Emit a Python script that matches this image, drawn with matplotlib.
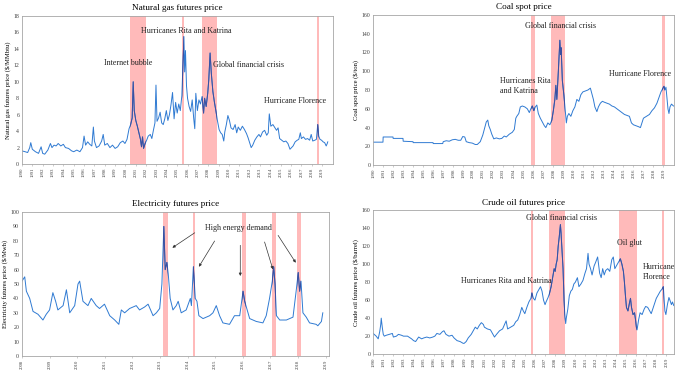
"""
Four commodity price panels with shaded event windows.
"""

import matplotlib
matplotlib.use("Agg")
import matplotlib.pyplot as plt
from matplotlib.patches import Rectangle

# Data (decimal years, prices).

gas_t = [1990.0, 1990.3, 1990.55, 1990.75, 1990.85, 1991.0, 1991.3, 1991.6, 1991.85,
         1992.0, 1992.2, 1992.5, 1992.75, 1992.9, 1993.1, 1993.3, 1993.5, 1993.75,
         1994.0, 1994.2, 1994.5, 1994.8, 1995.0, 1995.3, 1995.6, 1995.85,
         1996.0, 1996.15, 1996.35, 1996.55, 1996.75, 1996.9, 1997.0, 1997.2, 1997.45, 1997.7, 1997.85,
         1998.0, 1998.25, 1998.5, 1998.75, 1999.0, 1999.25, 1999.5, 1999.75, 1999.95,
         2000.15, 2000.35, 2000.5, 2000.65, 2000.75, 2000.85, 2001.0, 2001.15, 2001.3, 2001.45,
         2001.55, 2001.65, 2001.75, 2001.9, 2002.05, 2002.2, 2002.4, 2002.55, 2002.7, 2002.85, 2002.95,
         2003.05, 2003.2, 2003.35, 2003.5, 2003.65, 2003.8, 2003.95,
         2004.1, 2004.25, 2004.4, 2004.55, 2004.7, 2004.85, 2005.0, 2005.15, 2005.3, 2005.45,
         2005.55, 2005.65, 2005.72, 2005.8, 2005.9, 2006.0, 2006.15, 2006.3, 2006.45, 2006.6,
         2006.7, 2006.8, 2006.95, 2007.1, 2007.25, 2007.4, 2007.55, 2007.65, 2007.8, 2007.95,
         2008.05, 2008.18, 2008.3, 2008.45, 2008.6, 2008.75, 2008.9, 2009.05, 2009.2, 2009.35,
         2009.5, 2009.6, 2009.75, 2009.9, 2010.05, 2010.2, 2010.4, 2010.6, 2010.75, 2010.9,
         2011.1, 2011.3, 2011.5, 2011.7, 2011.85, 2012.0, 2012.15, 2012.3, 2012.5, 2012.7, 2012.9,
         2013.05, 2013.25, 2013.45, 2013.65, 2013.8, 2013.9, 2014.05, 2014.25, 2014.45, 2014.6,
         2014.75, 2014.9, 2015.1, 2015.3, 2015.5, 2015.7, 2015.9, 2016.05, 2016.2, 2016.4,
         2016.6, 2016.75, 2016.9, 2017.0, 2017.2, 2017.4, 2017.6, 2017.8, 2017.95,
         2018.1, 2018.3, 2018.45, 2018.58, 2018.68, 2018.8, 2018.95, 2019.1, 2019.25, 2019.4,
         2019.5, 2019.55]
gas_price = [1.6, 1.5, 1.4, 2.0, 2.6, 1.8, 1.5, 1.3, 2.1,
             1.3, 1.2, 1.7, 2.5, 2.0, 2.3, 2.2, 2.5, 2.2,
             2.4, 2.0, 1.9, 1.6, 1.5, 1.7, 1.5, 2.0,
             3.4, 2.3, 2.7, 2.4, 2.2, 4.5, 2.8, 2.0, 2.2, 2.8, 3.6,
             2.3, 2.5, 2.0, 2.3, 1.9, 2.1, 2.6, 2.8, 2.5,
             3.0, 4.3, 4.8, 5.6, 10.0, 6.5, 5.3, 4.6, 3.8, 3.0,
             2.1, 3.3, 1.9, 2.5, 2.9, 3.4, 3.6, 3.1, 4.1, 5.0, 9.6,
             5.2, 5.6, 6.3, 5.0, 4.8, 5.5, 6.5,
             5.3, 6.0, 7.2, 8.7, 5.5, 7.5, 6.2, 7.3, 6.5, 8.3,
             12.0, 15.5, 11.2, 13.8, 9.5, 8.0, 7.0, 6.4, 7.8, 5.5,
             4.3, 8.6, 6.5, 7.8, 7.3, 8.2, 6.2, 8.0, 7.0, 8.6,
             10.2, 13.5, 11.0, 8.8, 7.5, 6.4, 5.2, 4.2, 3.8, 3.6,
             2.8, 3.9, 4.8, 5.9, 5.3, 4.4, 4.2, 4.8, 3.8, 4.5,
             4.1, 4.6, 4.2, 3.7, 3.2, 2.6, 2.0, 2.3, 2.9, 3.3, 3.6,
             3.3, 3.9, 4.1, 3.5, 3.8, 6.1, 4.6, 4.8, 4.4, 4.1,
             4.4, 3.1, 2.9, 2.7, 2.8, 2.5, 1.8, 2.0, 2.2, 2.7,
             2.9, 3.0, 3.8, 3.1, 3.3, 3.0, 3.1, 2.9, 3.6,
             2.8, 2.9, 3.0, 4.8, 3.4, 3.0, 2.9, 2.7, 2.6, 2.2,
             2.5, 2.7]

coal_t = [1990.0, 1990.98, 1991.0, 1991.98, 1992.0, 1992.98, 1993.0, 1993.98, 1994.0, 1995.98,
          1996.0, 1996.95, 1997.0, 1997.3, 1997.6, 1997.9, 1998.2, 1998.5, 1998.75, 1998.95,
          1999.15, 1999.3, 1999.6, 1999.9, 2000.2, 2000.4, 2000.7, 2000.95, 2001.15, 2001.3,
          2001.45, 2001.55, 2001.7, 2001.85, 2002.05, 2002.3, 2002.6, 2002.85, 2003.1, 2003.3,
          2003.6, 2003.9, 2004.1, 2004.25, 2004.35, 2004.55, 2004.7, 2004.9, 2005.15, 2005.4,
          2005.6, 2005.75, 2005.9, 2006.05, 2006.2, 2006.35, 2006.5, 2006.7, 2006.9, 2007.1,
          2007.25, 2007.45, 2007.65, 2007.85, 2008.0, 2008.15, 2008.25, 2008.35, 2008.5, 2008.65,
          2008.72, 2008.78, 2008.9, 2009.05, 2009.18, 2009.3, 2009.4, 2009.55, 2009.75, 2009.95,
          2010.15, 2010.35, 2010.55, 2010.75, 2010.95, 2011.2, 2011.45, 2011.7, 2011.85, 2012.0,
          2012.15, 2012.35, 2012.5, 2012.7, 2012.9, 2013.1, 2013.35, 2013.6, 2013.85, 2014.1,
          2014.35, 2014.6, 2014.85, 2015.1, 2015.35, 2015.6, 2015.8, 2016.0, 2016.25, 2016.5,
          2016.7, 2016.85, 2017.0, 2017.3, 2017.6, 2017.85, 2018.1, 2018.35, 2018.55, 2018.75,
          2018.9, 2019.05, 2019.15, 2019.25, 2019.35, 2019.45, 2019.55, 2019.65, 2019.8, 2020.0]
coal_price = [24.5, 24.5, 30.0, 30.0, 28.5, 28.5, 25.5, 25.0, 24.0, 24.0,
              23.0, 23.0, 25.0, 26.0, 25.5, 27.0, 27.5, 26.5, 26.5, 30.5,
              30.0, 25.0, 24.0, 23.5, 22.0, 22.0, 25.0, 32.0, 40.0, 46.0,
              48.0, 42.0, 38.0, 33.0, 28.0, 29.0, 28.0, 28.5, 31.0, 30.0,
              33.0, 35.0, 38.0, 50.0, 52.0, 55.0, 62.0, 63.0, 62.0, 60.0,
              56.0, 60.0, 63.0, 58.0, 62.0, 64.0, 55.0, 50.0, 46.0, 42.0,
              40.0, 45.0, 43.0, 48.0, 58.0, 70.0, 85.0, 70.0, 100.0, 133.0,
              118.0, 125.0, 90.0, 75.0, 60.0, 45.0, 52.0, 55.0, 52.0, 58.0,
              62.0, 70.0, 68.0, 75.0, 78.0, 79.0, 80.0, 82.0, 76.0, 70.0,
              62.0, 57.0, 62.0, 66.0, 68.0, 67.0, 66.0, 65.0, 63.0, 62.0,
              60.0, 58.0, 56.0, 54.0, 53.0, 52.0, 45.0, 43.0, 42.0, 41.0,
              40.0, 45.0, 50.0, 52.0, 54.0, 58.0, 61.0, 66.0, 72.0, 78.0,
              81.0, 84.0, 80.0, 83.0, 72.0, 60.0, 55.0, 62.0, 65.0, 63.0]

elec_t = [2008.0, 2008.1, 2008.16, 2008.28, 2008.4, 2008.58, 2008.76, 2008.88, 2009.0, 2009.12,
          2009.22, 2009.3, 2009.49, 2009.61, 2009.73, 2009.91, 2010.03, 2010.09, 2010.21, 2010.39,
          2010.51, 2010.69, 2010.81, 2010.99, 2011.18, 2011.36, 2011.51, 2011.6, 2011.72, 2011.9,
          2012.14, 2012.26, 2012.44, 2012.57, 2012.75, 2012.87, 2012.99, 2013.07, 2013.14, 2013.19,
          2013.25, 2013.3, 2013.37, 2013.47, 2013.59, 2013.66, 2013.77, 2013.95, 2014.1, 2014.14,
          2014.21, 2014.28, 2014.34, 2014.41, 2014.56, 2014.8, 2014.92, 2015.04, 2015.16, 2015.28,
          2015.52, 2015.7, 2015.89, 2016.01, 2016.07, 2016.13, 2016.25, 2016.49, 2016.73, 2016.85,
          2016.97, 2017.07, 2017.12, 2017.17, 2017.22, 2017.34, 2017.58, 2017.82, 2017.94, 2018.01,
          2018.06, 2018.11, 2018.18, 2018.3, 2018.42, 2018.66, 2018.72, 2018.85, 2018.9]
elec_price = [52, 55, 45, 40, 31, 29, 25, 29, 32, 44,
              38, 32, 35, 46, 30, 35, 50, 52, 38, 35,
              40, 35, 33, 36, 28, 25, 22, 32, 30, 33,
              35, 32, 34, 36, 28, 30, 33, 50, 90, 60,
              65, 57, 40, 32, 35, 38, 30, 32, 40, 35,
              62, 40, 38, 28, 26, 28, 30, 35, 28, 23,
              22, 28, 28, 45, 38, 34, 26, 24, 23, 28,
              40, 52, 62, 50, 28, 25, 25, 27, 46, 58,
              45, 52, 30, 27, 23, 22, 21, 24, 30]

oil_t = [1990.0, 1990.3, 1990.5, 1990.65, 1990.75, 1990.8, 1990.9, 1991.0, 1991.1, 1991.3,
         1991.6, 1991.9, 1992.0, 1992.3, 1992.5, 1992.8, 1993.0, 1993.4, 1993.8, 1994.0,
         1994.2, 1994.5, 1994.8, 1995.0, 1995.3, 1995.6, 1995.9, 1996.1, 1996.3, 1996.6,
         1996.85, 1997.0, 1997.2, 1997.5, 1997.8, 1998.0, 1998.3, 1998.6, 1998.9, 1999.0,
         1999.2, 1999.4, 1999.7, 1999.9, 2000.1, 2000.3, 2000.5, 2000.7, 2000.9, 2001.0,
         2001.3, 2001.6, 2001.9, 2002.0, 2002.2, 2002.5, 2002.8, 2003.0, 2003.15, 2003.3,
         2003.6, 2003.9, 2004.1, 2004.3, 2004.5, 2004.7, 2004.85, 2005.0, 2005.2, 2005.4,
         2005.6, 2005.7, 2005.85, 2006.0, 2006.2, 2006.4, 2006.55, 2006.7, 2006.85, 2007.0,
         2007.1, 2007.3, 2007.45, 2007.6, 2007.8, 2007.9, 2008.0, 2008.1, 2008.2, 2008.3,
         2008.4, 2008.52, 2008.58, 2008.68, 2008.78, 2008.88, 2008.95, 2009.04, 2009.1, 2009.25,
         2009.4, 2009.55, 2009.7, 2009.85, 2010.0, 2010.2, 2010.35, 2010.55, 2010.75, 2010.95,
         2011.1, 2011.25, 2011.35, 2011.5, 2011.65, 2011.85, 2012.0, 2012.2, 2012.4, 2012.55,
         2012.7, 2012.85, 2013.0, 2013.2, 2013.4, 2013.6, 2013.75, 2013.9, 2014.05, 2014.25,
         2014.45, 2014.6, 2014.75, 2014.85, 2014.95, 2015.05, 2015.2, 2015.35, 2015.45, 2015.55,
         2015.7, 2015.85, 2015.95, 2016.03, 2016.1, 2016.25, 2016.4, 2016.6, 2016.8, 2016.95,
         2017.15, 2017.35, 2017.5, 2017.65, 2017.85, 2018.0, 2018.2, 2018.4, 2018.55, 2018.7,
         2018.78, 2018.85, 2018.95, 2019.1, 2019.25, 2019.35, 2019.5, 2019.6, 2019.73]
oil_price = [23, 20, 17, 25, 33, 40, 30, 22, 20, 21,
             22, 23, 19, 20, 22, 21, 20, 20, 17, 15,
             14, 19, 17, 18, 19, 18, 19, 20, 23, 22,
             25, 26, 22, 20, 21, 18, 15, 14, 12, 12,
             14, 18, 22, 26, 30, 28, 32, 35, 33, 30,
             28, 27, 21, 19, 22, 26, 28, 33, 37, 28,
             30, 32, 36, 38, 44, 52, 48, 45, 52, 58,
             62, 68, 62, 60, 68, 72, 75, 70, 60, 55,
             58, 63, 68, 75, 88, 95, 92, 100, 105, 120,
             130, 144, 135, 115, 95, 60, 45, 34, 40, 50,
             65, 70, 72, 78, 80, 85, 75, 78, 82, 90,
             95, 112, 100, 95, 88, 98, 102, 108, 90, 85,
             95, 88, 93, 95, 92, 105, 108, 95, 98, 102,
             106, 100, 92, 80, 65, 52, 48, 57, 62, 52,
             44, 46, 38, 30, 27, 38, 46, 44, 50, 53,
             52, 48, 45, 50, 57, 62, 66, 70, 72, 75,
             60, 48, 44, 55, 63, 60, 55, 58, 54]

# Shaded event windows (start, end) in decimal years.
gas_spans = [(2000.45, 2002.0), (2005.48, 2005.7), (2007.44, 2008.8), (2018.5, 2018.72)]
coal_spans = [(2005.72, 2006.12), (2007.75, 2009.15), (2018.84, 2019.17)]
elec_spans = [(2013.12, 2013.3), (2014.18, 2014.27), (2015.99, 2016.12), (2017.06, 2017.2), (2017.97, 2018.1)]
oil_spans = [(2005.58, 2005.85), (2007.43, 2008.98), (2014.35, 2016.1), (2018.53, 2018.8)]

LINE_COLOR = "#2F7AD2"
LINE_DARK = "#3B4FA0"   # line as it looks inside a shaded window
SHADE_COLOR = "#FFBABA"
SPINE_COLOR = "#A6A6A6"

plt.rcParams["font.family"] = ["Liberation Serif", "DejaVu Serif"]


def draw_panel(ax, t, v, spans, title, ylabel, first_year, last_year, xlim, ylim, ystep):
    ax.set_xlim(*xlim)
    ax.set_ylim(*ylim)
    ax.plot(t, v, color=LINE_COLOR, lw=0.7, zorder=2)
    for start, end in spans:
        ax.axvspan(start, end, color=SHADE_COLOR, lw=0, zorder=1)
        # darker copy of the line, clipped to the window
        clip = Rectangle((start, ylim[0]), end - start, ylim[1] - ylim[0], transform=ax.transData)
        dark, = ax.plot(t, v, color=LINE_DARK, lw=0.7, zorder=3)
        dark.set_clip_path(clip)

    years = list(range(first_year, last_year + 1))
    ax.set_xticks(years)
    ax.set_xticklabels([str(y) for y in years], rotation=90, fontsize=3.4, color="#404040")
    ax.set_yticks(range(ylim[0], ylim[1] + 1, ystep))
    ax.tick_params(axis="y", labelsize=4.2, labelcolor="#404040", length=0, pad=2)
    ax.tick_params(axis="x", length=1.5, width=0.4, color=SPINE_COLOR, pad=1)
    for s in ax.spines.values():
        s.set_color(SPINE_COLOR)
        s.set_linewidth(0.6)

    ax.set_title(title, fontsize=6.6, pad=4)
    ax.set_ylabel(ylabel, fontsize=4.8, labelpad=2)


fig = plt.figure(figsize=(6.76, 3.72), dpi=100)

ax_gas = fig.add_axes([0.0325, 0.559, 0.460, 0.398])
ax_coal = fig.add_axes([0.552, 0.556, 0.445, 0.404])
ax_elec = fig.add_axes([0.0325, 0.043, 0.454, 0.387])
ax_oil = fig.add_axes([0.552, 0.048, 0.445, 0.387])

draw_panel(ax_gas, gas_t, gas_price, gas_spans, "Natural gas futures price",
           "Natural gas futures price ($/MMbtu)", 1990, 2019, (1990, 2020.05), (0, 18), 2)
draw_panel(ax_coal, coal_t, coal_price, coal_spans, "Coal spot price",
           "Coal spot price ($/ton)", 1990, 2019, (1990, 2020.05), (0, 160), 20)
draw_panel(ax_elec, elec_t, elec_price, elec_spans, "Electricity futures price",
           "Electricity futures price ($/Mwh)", 2008, 2019, (2008, 2019.12), (0, 100), 10)
draw_panel(ax_oil, oil_t, oil_price, oil_spans, "Crude oil futures price",
           "Crude oil futures price ($/barrel)", 1990, 2019, (1990, 2019.75), (0, 160), 20)

txt = dict(fontsize=5.8, color="#222222")

ax_gas.text(2000.3, 12.3, "Internet bubble", ha="center", va="center", **txt)
ax_gas.text(2005.9, 16.2, "Hurricanes Rita and Katrina", ha="center", va="center", **txt)
ax_gas.text(2008.42, 12.0, "Global financial crisis", ha="left", va="center", **txt)
ax_gas.text(2016.4, 7.7, "Hurricane Florence", ha="center", va="center", **txt)

ax_coal.text(2008.75, 148.6, "Global financial crisis", ha="center", va="center", **txt)
ax_coal.text(2002.65, 84.6, "Hurricanes Rita\nand Katrina", ha="left", va="center",
             linespacing=1.3, **txt)
ax_coal.text(2016.64, 97.1, "Hurricane Florence", ha="center", va="center", **txt)

ax_oil.text(2008.58, 150.8, "Global financial crisis", ha="center", va="center", **txt)
ax_oil.text(2003.18, 81.3, "Hurricanes Rita and Katrina", ha="center", va="center", **txt)
ax_oil.text(2015.37, 123.0, "Oil glut", ha="center", va="center", **txt)
ax_oil.text(2016.66, 91.3, "Hurricane\nFlorence", ha="left", va="center",
            linespacing=1.3, **txt)

# arrows for the electricity spikes
ax_elec.text(2015.85, 89.1, "High energy demand", ha="center", va="center", **txt)
arrow_tail = [(2014.26, 85.6), (2014.98, 79.9), (2015.91, 76.9), (2016.79, 79.2), (2017.28, 83.8)]
arrow_head = [(2013.45, 75.2), (2014.41, 62.0), (2015.91, 55.6), (2017.09, 60.2), (2017.92, 64.8)]
for tail, head in zip(arrow_tail, arrow_head):
    ax_elec.annotate("", xy=head, xytext=tail,
                     arrowprops=dict(arrowstyle="-|>", color="#333333", lw=0.5,
                                     mutation_scale=4, shrinkA=0, shrinkB=0))

fig.savefig("out.png", dpi=100)
